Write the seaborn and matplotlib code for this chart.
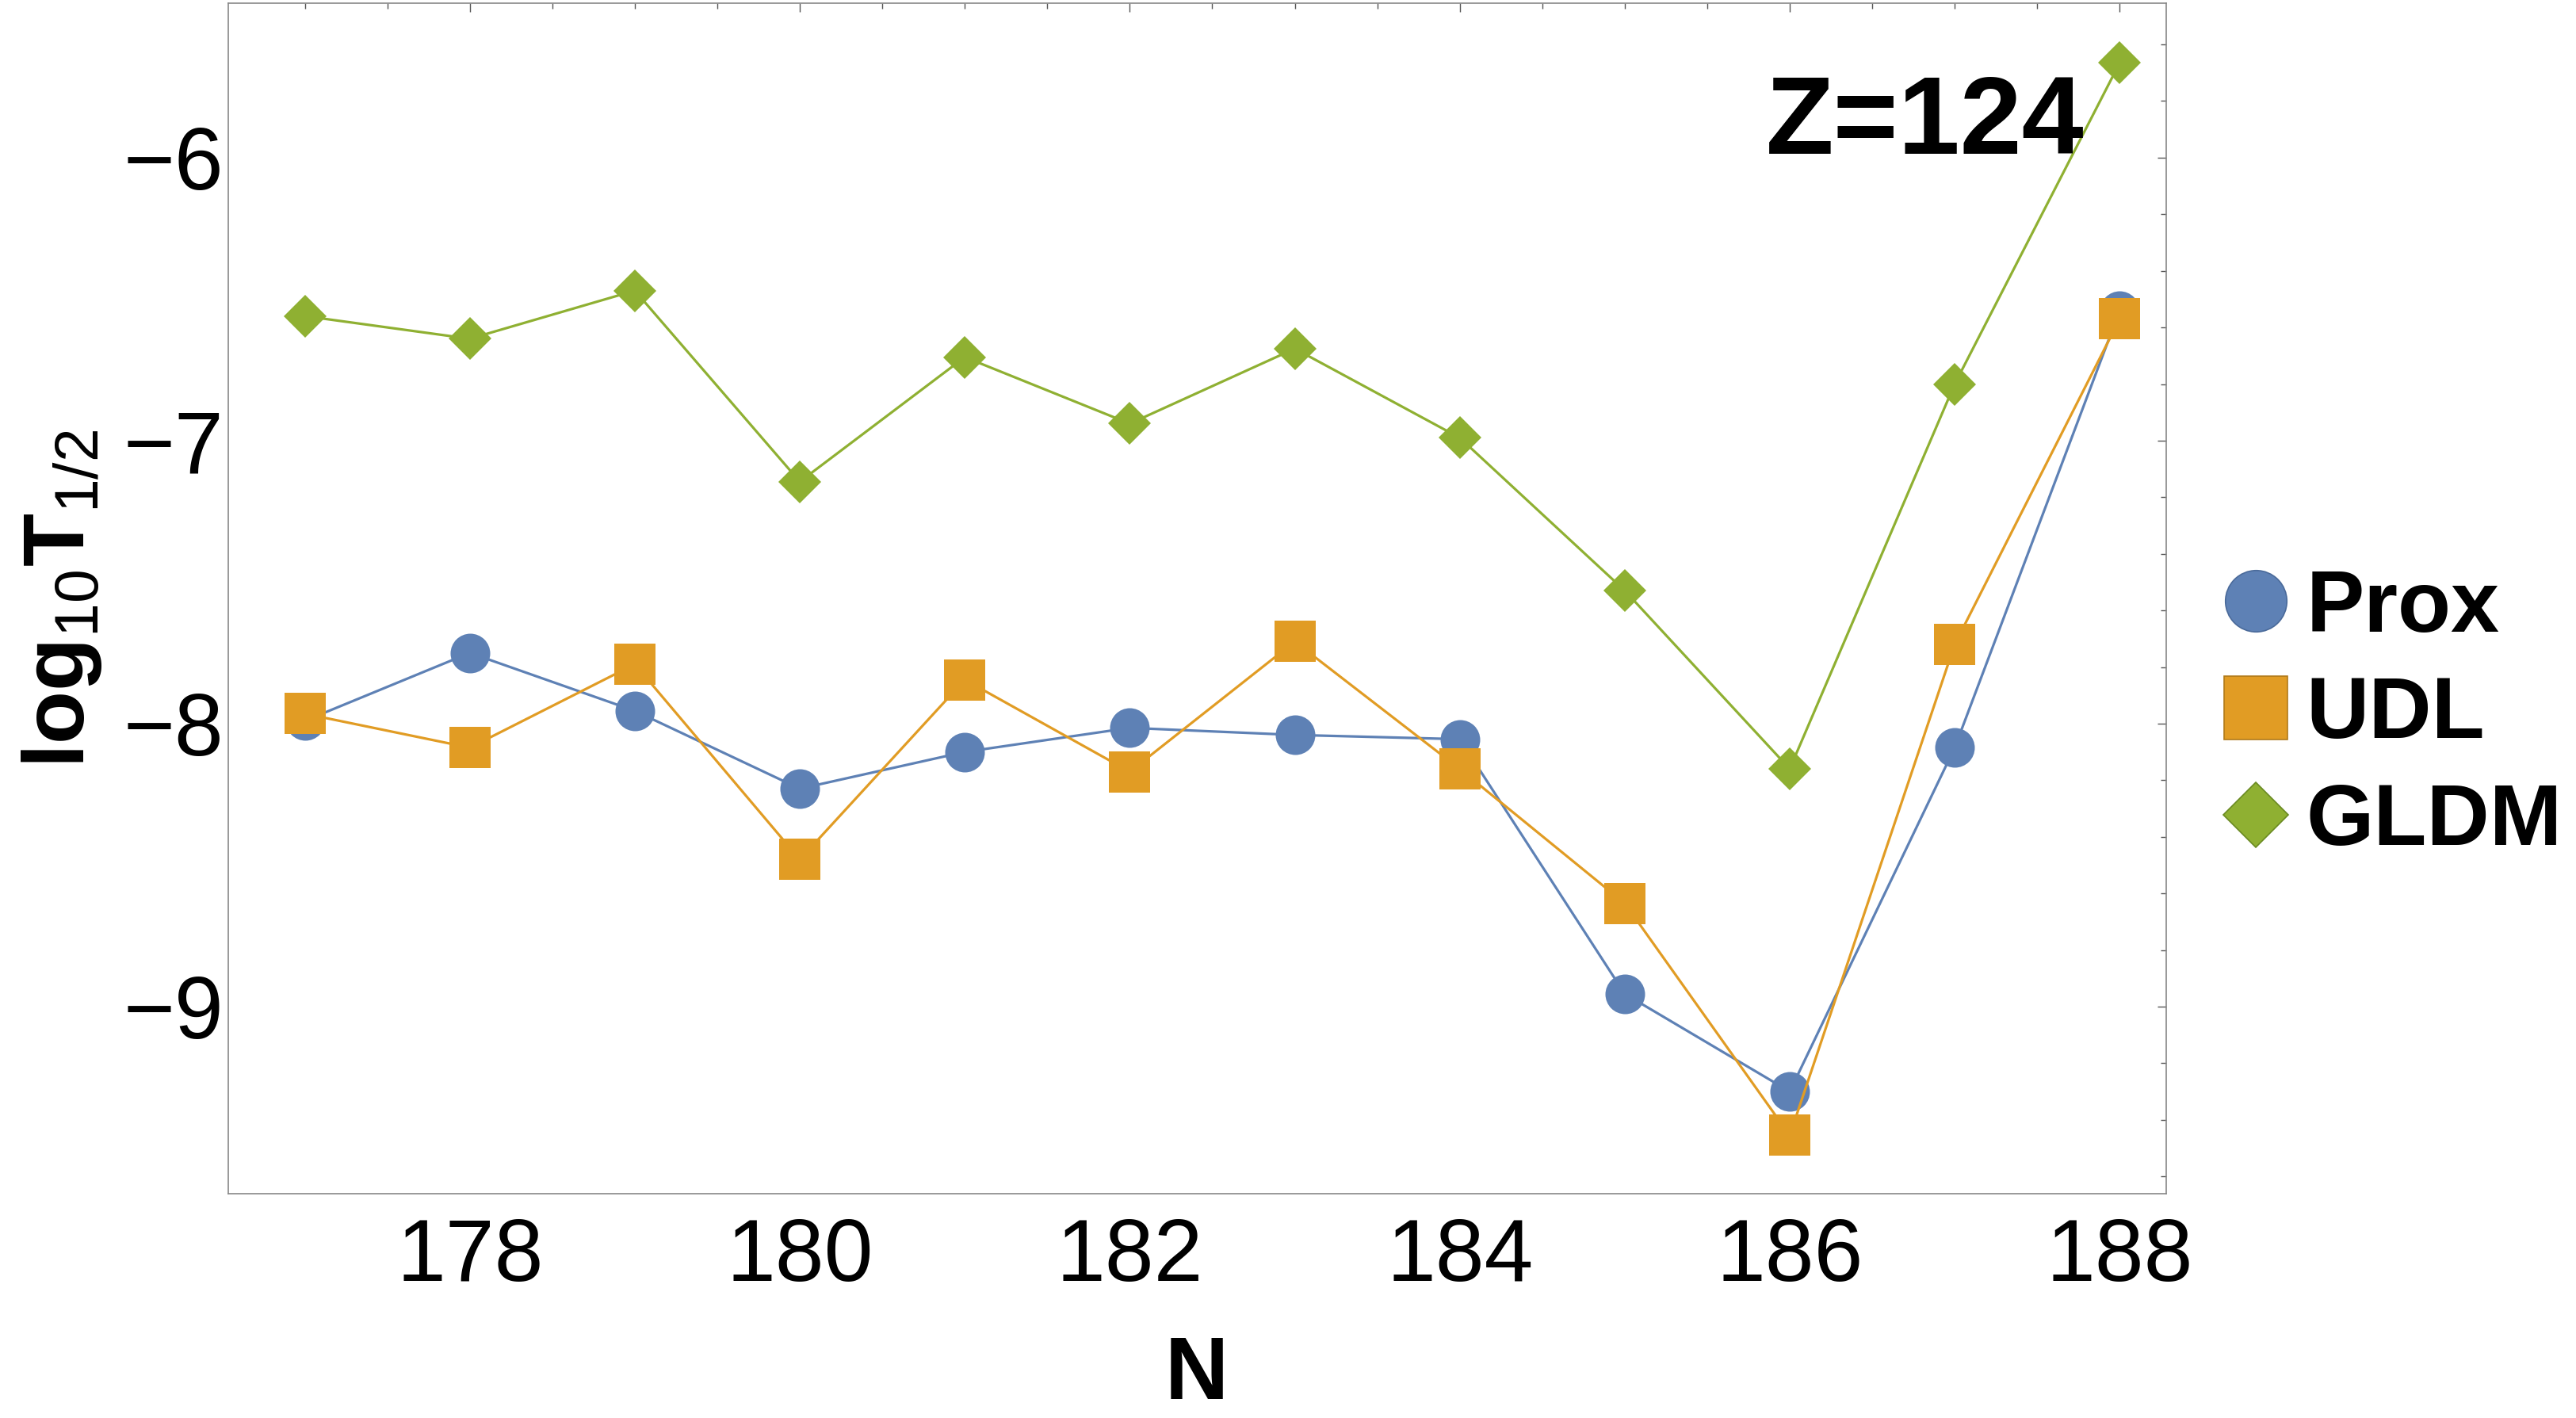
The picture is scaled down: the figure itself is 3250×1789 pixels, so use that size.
import matplotlib
matplotlib.use("Agg")
import matplotlib.pyplot as plt
from matplotlib.lines import Line2D
from matplotlib.ticker import MultipleLocator
import numpy as np
import pandas as pd
import seaborn as sns

# %%
N = [177, 178, 179, 180, 181, 182, 183, 184, 185, 186, 187, 188]
prox = [-7.99, -7.75, -7.955, -8.23, -8.10, -8.015, -8.04, -8.055, -8.955, -9.30, -8.085, -6.54]
udl = [-7.965, -8.085, -7.79, -8.48, -7.845, -8.17, -7.71, -8.16, -8.635, -9.455, -7.72, -6.57]
gldm = [-6.56, -6.64, -6.47, -7.145, -6.705, -6.94, -6.675, -6.99, -7.53, -8.16, -6.80, -5.665]
models = ['Prox', 'UDL', 'GLDM']

colors = {'Prox': '#5E81B5', 'UDL': '#E19C24', 'GLDM': '#8FB032'}
edges = {'Prox': '#4A6A9A', 'UDL': '#B07A1A', 'GLDM': '#6A8A22'}
marks = {'Prox': 'o', 'UDL': 's', 'GLDM': 'D'}
msize = {'Prox': 36, 'UDL': 37, 'GLDM': 27}

df = pd.DataFrame({'N': N * 3,
                   'logT': prox + udl + gldm,
                   'model': np.repeat(models, len(N))})

sns.set_style('white')
plt.rcParams['font.family'] = ['Liberation Sans', 'DejaVu Sans']
plt.rcParams['text.color'] = 'black'
plt.rcParams['axes.labelcolor'] = 'black'
plt.rcParams['xtick.labelcolor'] = 'black'
plt.rcParams['ytick.labelcolor'] = 'black'
plt.rcParams['mathtext.fontset'] = 'custom'
plt.rcParams['mathtext.rm'] = 'Liberation Sans'
plt.rcParams['mathtext.bf'] = 'Liberation Sans:bold'

fig = plt.figure(figsize=(32.5, 17.89), dpi=100)
ax = fig.add_axes([0.0885, 0.1582, 0.7523, 0.8396])

for m in models:
    sns.lineplot(data=df[df.model == m], x='N', y='logT', ax=ax,
                 color=colors[m], marker=marks[m], markersize=msize[m],
                 markerfacecolor=colors[m], markeredgewidth=0,
                 linewidth=2.3, legend=False)

ax.set_xlim(176.534, 188.28)
ax.set_ylim(-9.661, -5.454)
ax.xaxis.set_major_locator(MultipleLocator(2))
ax.xaxis.set_minor_locator(MultipleLocator(0.5))
ax.yaxis.set_major_locator(MultipleLocator(1))
ax.yaxis.set_minor_locator(MultipleLocator(0.2))
ax.tick_params(which='both', direction='in', top=True, right=True,
               color='#555555', width=1.0, labelsize=80)
ax.tick_params(axis='x', pad=21)
ax.tick_params(axis='y', pad=4)
ax.tick_params(which='major', length=8)
ax.tick_params(which='minor', length=5)
for s in ax.spines.values():
    s.set_color('#888888')
    s.set_linewidth(1.2)

ax.set_xlabel('N', fontsize=80, fontweight='bold')
ax.xaxis.label.set_va('baseline')
ax.xaxis.set_label_coords(0.5, -0.1723)
ax.set_ylabel('')
fig.text(0.024, 0.578, r'$\mathbf{log}_{\mathrm{10}}\mathbf{T}_{\mathrm{1/2}}$',
         rotation=90, ha='center', va='center', fontsize=79)
ax.text(0.9577, 0.8733, 'Z=124', transform=ax.transAxes, ha='right',
        va='baseline', fontsize=101, fontweight='bold')

handles = [Line2D([], [], linestyle='none', marker=marks[m], color=colors[m],
                  markeredgecolor=edges[m], markeredgewidth=1.2,
                  markersize=msize[m]) for m in models]
fig.legend(handles, models, loc='center left', bbox_to_anchor=(0.8588, 0.495),
           frameon=False, markerscale=1.55, handlelength=1.0, handletextpad=0.08,
           borderpad=0, borderaxespad=0, labelspacing=0.3,
           prop={'weight': 'bold', 'size': 79})

fig.savefig('out.png', dpi=100, facecolor='white')
